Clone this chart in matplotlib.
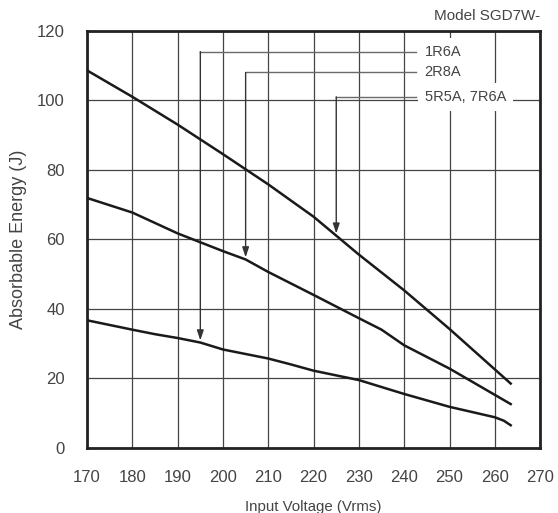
import matplotlib.pyplot as plt
import numpy as np

plt.rcParams['font.family'] = ['Liberation Sans', 'DejaVu Sans']

# curve for 5R5A, 7R6A (top)
volt_top = [170, 180, 190, 200, 210, 220, 230, 240, 250, 263.5]
energy_top = [108.6, 101, 93, 84.5, 75.8, 66.5, 55.6, 45.3, 34.2, 18.5]

# curve for 2R8A (middle)
volt_mid = [170, 180, 190, 200, 205, 210, 220, 230, 235, 240, 250, 263.5]
energy_mid = [71.9, 67.7, 61.7, 56.6, 54.2, 50.6, 44.0, 37.3, 34.0, 29.5, 22.8, 12.6]

# curve for 1R6A (bottom)
volt_low = [170, 180, 185, 190, 195, 200, 210, 215, 220, 230, 240, 250, 260, 262, 263.5]
energy_low = [36.7, 34.0, 32.7, 31.6, 30.3, 28.3, 25.7, 24.0, 22.2, 19.5, 15.5, 11.8, 8.8, 7.8, 6.5]

models = ['1R6A', '2R8A', '5R5A, 7R6A']
model_volt = [195, 205, 225]
model_label_y = [114, 108, 101]
curves = [(volt_low, energy_low), (volt_mid, energy_mid), (volt_top, energy_top)]

txt = '#444444'

fig = plt.figure(figsize=(5.58, 5.13), dpi=100)
ax = fig.add_axes([0.156, 0.127, 0.812, 0.813])

ax.set_xlim(170, 270)
ax.set_ylim(0, 120)
ax.set_xticks(np.arange(170, 271, 10))
ax.set_yticks(np.arange(0, 121, 20))
ax.grid(color='#444444', lw=0.9)
ax.set_axisbelow(True)
ax.tick_params(length=0, pad=16, labelsize=12, colors=txt)
for s in ax.spines.values():
    s.set_linewidth(2)
    s.set_color('#222222')

for vx, ey in curves:
    ax.plot(vx, ey, color='#1a1a1a', lw=1.8, zorder=4)

# labels with leader lines and arrows down to the curves
for name, xv, ly, (vx, ey) in zip(models, model_volt, model_label_y, curves):
    yt = np.interp(xv, vx, ey)
    ax.plot([xv, 242.6], [ly, ly], color='#6a6a6a', lw=1.0, zorder=2.5)
    ax.annotate('', xy=(xv, yt + 0.6), xytext=(xv, ly),
                arrowprops=dict(arrowstyle='-|>,head_length=0.6,head_width=0.2',
                                color='#333333', lw=1.0, shrinkA=0, shrinkB=0),
                zorder=3)
    ax.text(244.5, ly, name, fontsize=10.5, color=txt, va='center', ha='left',
            zorder=2, bbox=dict(facecolor='white', edgecolor='none', pad=5))

ax.set_xlabel('Input Voltage (Vrms)', fontsize=10.8, color=txt, labelpad=11)
ax.set_ylabel('Absorbable Energy (J)', fontsize=13, color=txt, labelpad=7)
fig.text(0.968, 0.968, 'Model SGD7W-', fontsize=11, color=txt, ha='right', va='center')

fig.savefig('out.png', dpi=100)
